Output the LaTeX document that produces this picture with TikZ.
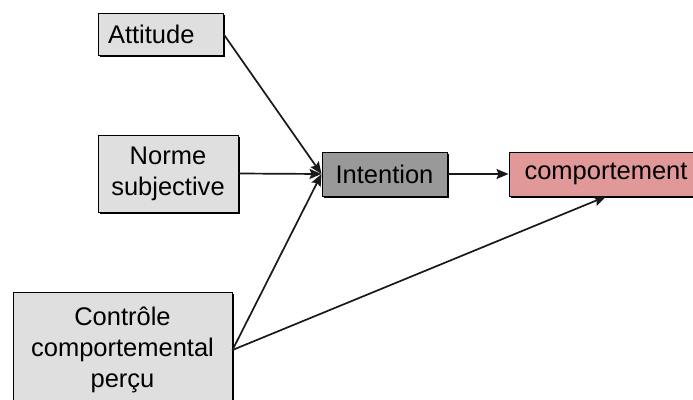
\documentclass[tikz,border=0pt]{standalone}
\usepackage{fontspec}
\setmainfont{Liberation Sans}
\usetikzlibrary{arrows.meta,shadows}
\definecolor{boxgrey}{HTML}{DFDFDF}
\definecolor{intgrey}{HTML}{999999}
\definecolor{comppink}{HTML}{E09898}

\begin{document}
\begin{tikzpicture}[x=1pt,y=-1pt,
    box/.style={draw=black, line width=1pt, fill=boxgrey, align=center, inner sep=0pt,
        font=\fontsize{25.5}{31}\selectfont,
        drop shadow={shadow xshift=1.5pt, shadow yshift=-1.5pt, fill=black, opacity=1}},
    link/.style={draw=black!90, line width=1.7pt, -{Stealth[length=12pt,width=10pt,inset=2pt]}}]
    \useasboundingbox (0,0) rectangle (693,399);
    % boxes
    \node[box, minimum width=125pt, minimum height=42pt, text width=105pt, align=left] (att) at (160.5,34) {Attitude};
    \node[box, minimum width=140pt, minimum height=77pt] (norm) at (168,173.5) {Norme\\subjective};
    \node[box, minimum width=219pt, minimum height=116pt] (ctrl) at (122.5,350) {Contr\^ole\\comportemental\\per\c{c}u};
    \node[box, fill=intgrey, minimum width=125pt, minimum height=44pt] (int) at (384.5,174) {Intention};
    \node[box, fill=comppink, minimum width=194pt, minimum height=44pt] (comp) at (606,174) {comportement};
    % arrows
    \draw[link] (att.east) -- (int.west);
    \draw[link] (norm.east) -- (int.west);
    \draw[link] (ctrl.east) -- (int.west);
    \draw[link] (int.east) -- (comp.west);
    \draw[link] (ctrl.east) -- (comp.south);
\end{tikzpicture}
\end{document}
